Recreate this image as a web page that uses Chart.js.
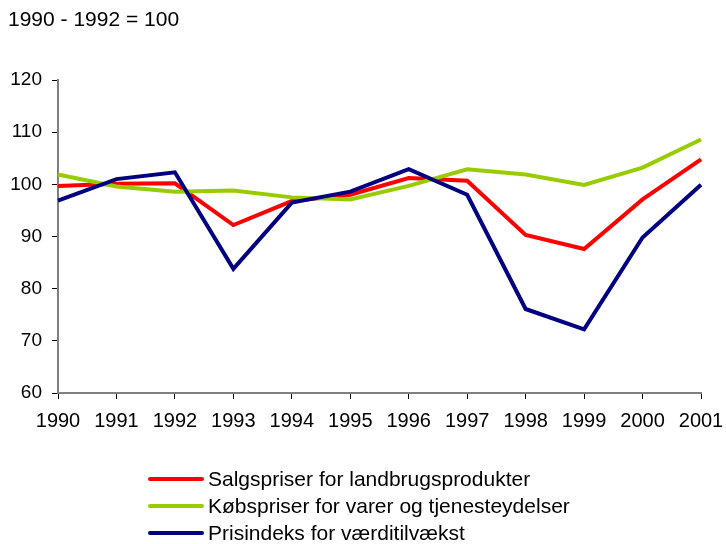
<!DOCTYPE html>
<html>
<head>
<meta charset="utf-8">
<script src="https://cdn.jsdelivr.net/npm/chart.js@4"></script>
<style>
    html, body { margin: 0; padding: 0; background: #fff; }
    #wrap { position: relative; width: 726px; height: 544px; font-family: "Liberation Sans", Arial, sans-serif; color: #000; }
    #chart { position: absolute; left: 0; top: 0; }
    #note { position: absolute; left: 8px; top: 7px; font-size: 21px; }
    #legend { position: absolute; left: 148px; top: 465px; font-size: 21px; }
    .legend-row { height: 27px; display: flex; align-items: center; }
    .legend-line { width: 56px; height: 4px; border-radius: 2px; margin-right: 4px; }
</style>
</head>
<body>
<div id="wrap">
    <canvas id="chart" width="726" height="544"></canvas>
    <div id="note">1990 - 1992 = 100</div>
    <div id="legend"></div>
</div>
<script>
const years = ['1990', '1991', '1992', '1993', '1994', '1995', '1996', '1997', '1998', '1999', '2000', '2001'];

const salgspriser = [99.7, 100.1, 100.2, 92.2, 96.8, 98.0, 101.2, 100.7, 90.3, 87.6, 97.1, 104.8];
const koebspriser = [101.9, 99.6, 98.6, 98.8, 97.5, 97.1, 99.7, 102.9, 101.9, 99.9, 103.2, 108.6];
const prisindeks = [96.9, 101.0, 102.3, 83.8, 96.5, 98.6, 102.9, 98.0, 76.1, 72.2, 89.8, 99.9];

const seriesNames = [
    'Salgspriser for landbrugsprodukter',
    'Købspriser for varer og tjenesteydelser',
    'Prisindeks for værditilvækst'
];
const seriesColors = ['#ff0000', '#99cc00', '#000080'];

const family = '"Liberation Sans", Arial, sans-serif';

// datasets, blue drawn on top
const datasets = [salgspriser, koebspriser, prisindeks].map((data, i) => ({
    label: seriesNames[i],
    data: data,
    borderColor: seriesColors[i],
    backgroundColor: seriesColors[i],
    borderWidth: 4,
    pointRadius: 0,
    tension: 0,
    fill: false,
    order: 3 - i
}));

new Chart(document.getElementById('chart'), {
    type: 'line',
    data: { labels: years, datasets: datasets },
    options: {
        responsive: false,
        animation: false,
        layout: { padding: { top: 80, right: 25, left: 0, bottom: 0 } },
        plugins: {
            legend: { display: false },
            tooltip: { enabled: false }
        },
        scales: {
            x: {
                offset: false,
                border: { color: '#808080', width: 2 },
                grid: { drawOnChartArea: false, drawTicks: true, tickLength: 6, color: '#000' },
                ticks: { color: '#000', font: { family: family, size: 20 }, padding: 10, maxRotation: 0, autoSkip: false },
                afterFit: (scale) => {
                    scale.height = 151;
                    scale.paddingLeft = 0;
                    scale.paddingRight = 0;
                }
            },
            y: {
                min: 60,
                max: 120,
                border: { color: '#808080', width: 2 },
                grid: { drawOnChartArea: false, drawTicks: true, tickLength: 6, color: '#000' },
                ticks: { stepSize: 10, color: '#000', font: { family: family, size: 19 }, padding: 10 },
                afterFit: (scale) => { scale.width = 58; }
            }
        }
    }
});

// Legend
const legend = document.getElementById('legend');
seriesNames.forEach((name, i) => {
    const row = document.createElement('div');
    row.className = 'legend-row';
    row.innerHTML = `<span class="legend-line" style="background:${seriesColors[i]}"></span><span>${name}</span>`;
    legend.appendChild(row);
});
</script>
</body>
</html>
